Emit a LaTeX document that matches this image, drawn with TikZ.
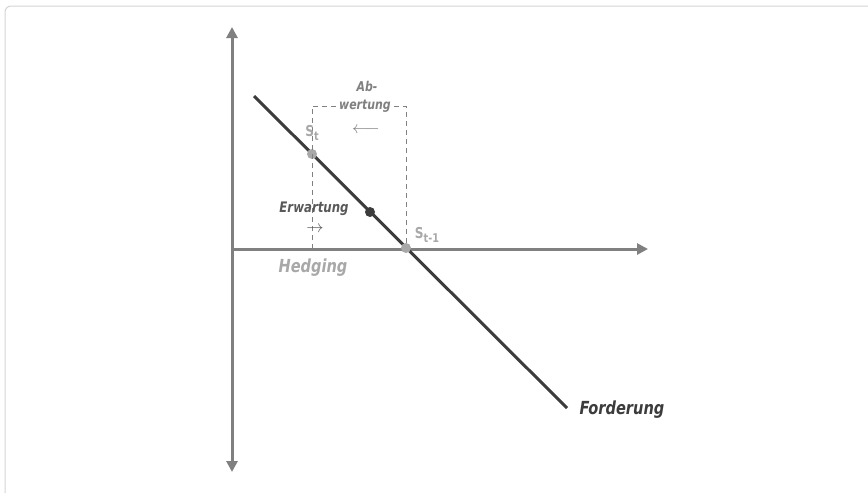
\documentclass[tikz,border=0pt]{standalone}
\usepackage{fontspec}
\setmainfont{Liberation Sans}
\newfontfamily\narrowfont[FakeStretch=0.9]{DejaVu Sans Condensed}
\usetikzlibrary{arrows.meta,positioning}
\definecolor{axisgray}{HTML}{808080}
\definecolor{linegray}{HTML}{3C3C3C}
\definecolor{dotgray}{HTML}{A8A8A8}
\definecolor{textgray}{HTML}{595959}
\definecolor{framegray}{HTML}{D4D4D4}
\newcommand{\subsc}[1]{\raisebox{-3.5pt}{\fontsize{12}{12}\selectfont #1}}

\begin{document}
\begin{tikzpicture}[x=1pt,y=-1pt,>={Triangle[length=11pt,width=11pt]},
  axis/.style={line width=3pt,draw=axisgray},
  lbl/.style={inner sep=0pt,font=\narrowfont\bfseries\itshape\fontsize{#1}{#1}\selectfont},
  slbl/.style={inner sep=0pt,text=dotgray,font=\narrowfont\bfseries\fontsize{15}{15}\selectfont},
  dot/.style={circle,fill=#1,minimum size=10pt,inner sep=0pt},
  guide/.style={draw=axisgray,line width=0.8pt,dash pattern=on 5pt off 4pt}]
  \useasboundingbox (0,0) rectangle (868,493);
  \draw[framegray,line width=1pt,rounded corners=6pt] (5,493) |- (868,6);
  % axes
  \coordinate (o) at (232,249);
  \coordinate (ytop) at (232,27);
  \coordinate (ybot) at (232,472);
  \coordinate (xend) at (648,249);
  \draw[axis,<->] (ybot) -- (ytop);
  \draw[axis,->] (o) -- (xend);
  % demand curve
  \coordinate (dstart) at (254,96);
  \coordinate (dend) at (567,408);
  \draw[linegray,line width=3pt] (dstart) -- (dend);
  % points on the curve
  \node[dot=dotgray] (st) at (312,154) {};
  \node[dot=linegray] (ew) at (370,212) {};
  \node[dot=dotgray] (st1) at (406,248) {};
  % dashed frame
  \coordinate (stfoot) at (312,249);
  \coordinate (tl) at (312,106);
  \coordinate (tr) at (406,106);
  \draw[guide] (stfoot) -- (tl) -- (tr) -- (st1);
  \node[lbl=13.5,text=axisgray,fill=white,inner sep=3pt] (wert) at (365,106) {wertung};
  \node[lbl=13.5,text=axisgray] (ab) at (367,86) {Ab-};
  \node[text=axisgray,inner sep=0pt,font=\fontsize{16}{16}\selectfont] (larr) at (366,130) {$\longleftarrow$};
  % labels
  \node[slbl] (stlbl) at (312,133) {S\subsc{t}};
  \node[slbl] (st1lbl) at (427,235) {S\subsc{t-1}};
  \node[lbl=14.5,text=textgray] (erw) at (314,209) {Erwartung};
  \node[text=textgray,inner sep=0pt,font=\fontsize{16}{16}\selectfont] (rarr) at (315,229) {$\rightarrow$};
  \node[lbl=18,text=dotgray] (hedge) at (313,268) {Hedging};
  \node[lbl=18,text=linegray] (ford) at (622,410) {Forderung};
\end{tikzpicture}
\end{document}
